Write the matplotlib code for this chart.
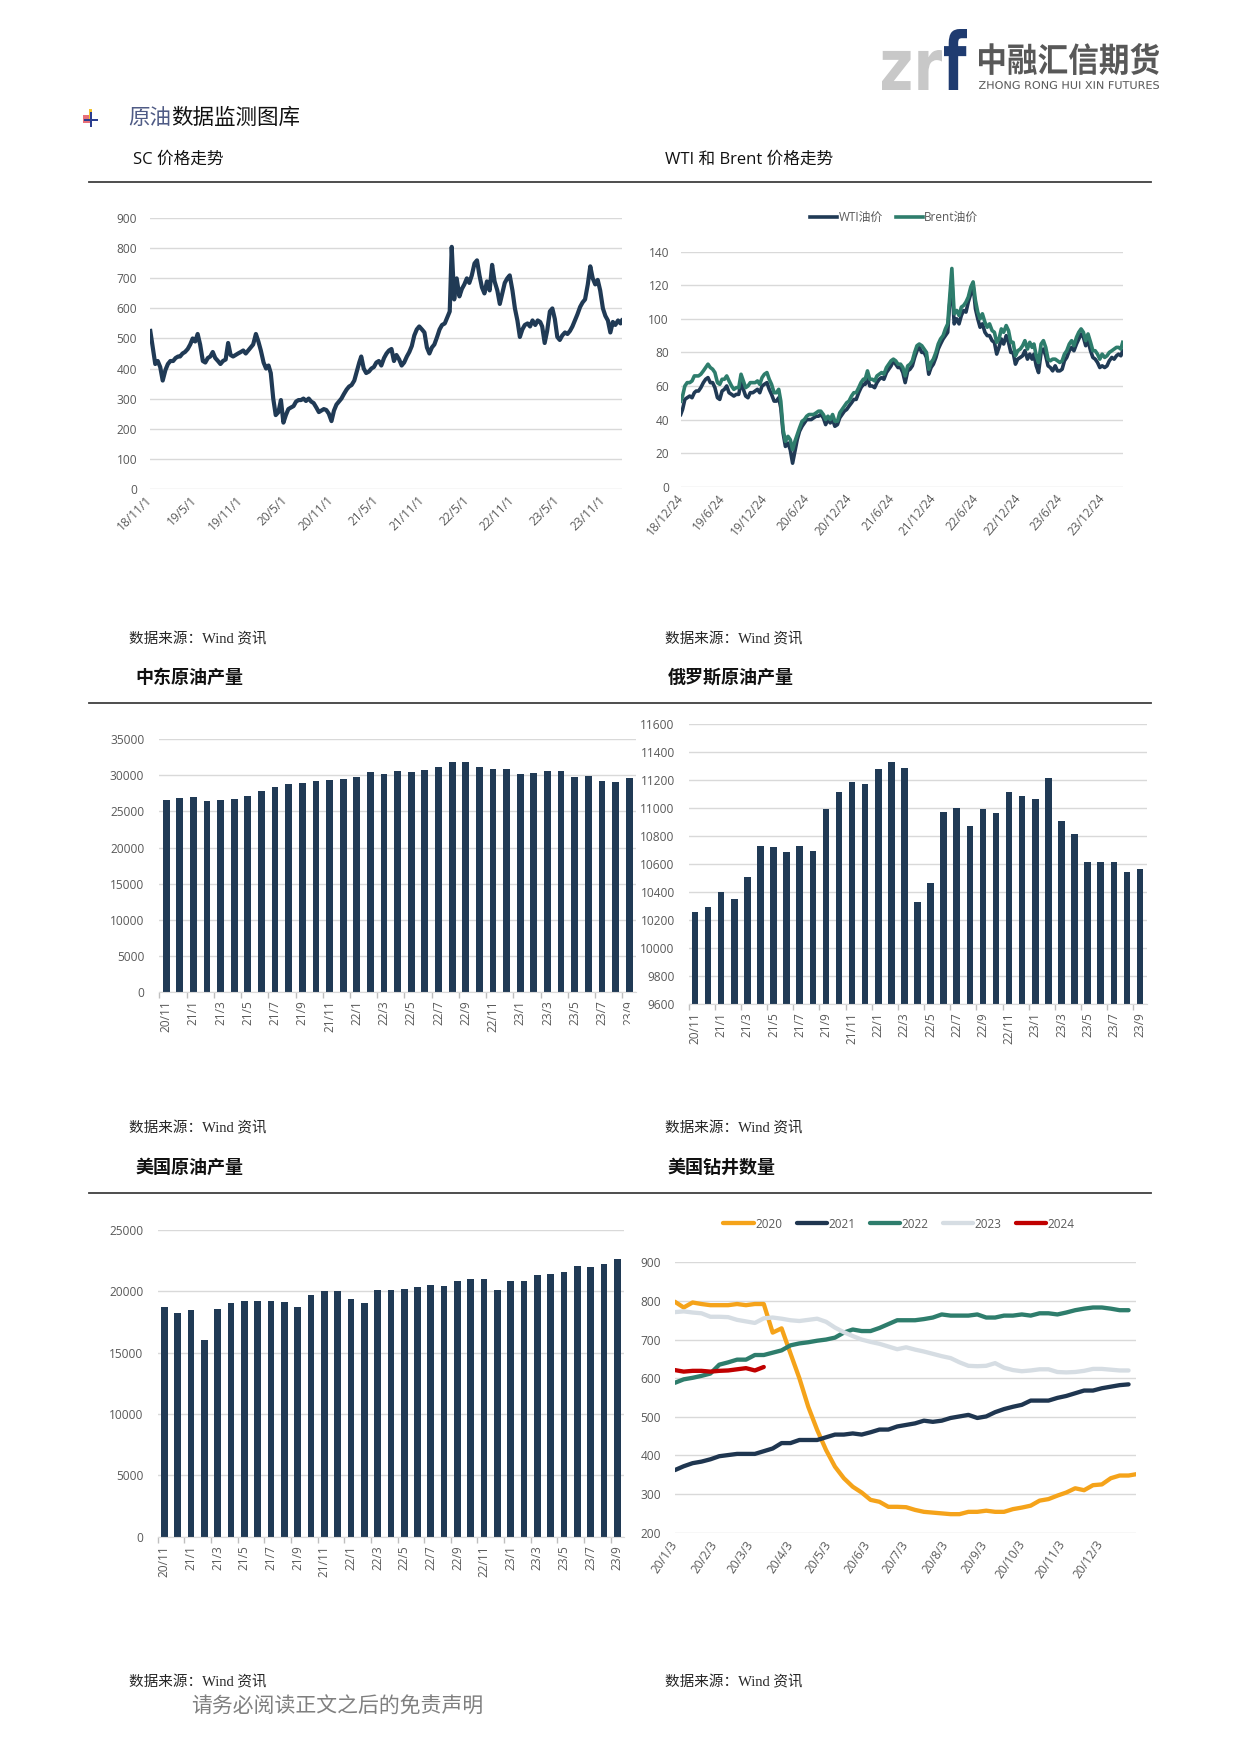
import matplotlib
matplotlib.use('Agg')
import matplotlib.pyplot as plt
from matplotlib.lines import Line2D
from matplotlib.patches import Rectangle, PathPatch
from matplotlib.textpath import TextPath
from matplotlib.font_manager import FontProperties
from matplotlib.transforms import Affine2D, IdentityTransform, Bbox, TransformedBbox
import numpy as np
import pandas as pd

W, H, DPI = 1241, 1755, 100
plt.rcParams['font.family'] = ['Open Sans', 'Noto Sans CJK SC', 'DejaVu Sans']

NAVY = '#203a55'
TEAL = '#2e7d6c'
GRID = '#d9d9d9'
TICKC = '#595959'
TICKSIZE = 8.6

# ---------------- data ----------------
# SC crude (dekadal readings: day 1, 11, 21 of each month)
sc_values = [
    525, 470, 415,   # 2018-11
    425, 405, 360,   # 2018-12
    395, 415, 425,   # 2019-01
    425, 435, 440,   # 2019-02
    440, 450, 455,   # 2019-03
    465, 480, 500,   # 2019-04
    490, 515, 480,   # 2019-05
    425, 420, 435,   # 2019-06
    440, 455, 435,   # 2019-07
    425, 415, 425,   # 2019-08
    430, 485, 445,   # 2019-09
    440, 445, 450,   # 2019-10
    455, 460, 450,   # 2019-11
    460, 470, 480,   # 2019-12
    515, 490, 460,   # 2020-01
    420, 400, 410,   # 2020-02
    385, 300, 245,   # 2020-03
    255, 295, 220,   # 2020-04
    245, 265, 270,   # 2020-05
    275, 290, 295,   # 2020-06
    295, 300, 292,   # 2020-07
    300, 290, 285,   # 2020-08
    270, 255, 260,   # 2020-09
    265, 262, 250,   # 2020-10
    225, 260, 280,   # 2020-11
    290, 300, 315,   # 2020-12
    330, 340, 345,   # 2021-01
    360, 390, 420,   # 2021-02
    440, 400, 385,   # 2021-03
    390, 400, 405,   # 2021-04
    420, 425, 410,   # 2021-05
    435, 450, 460,   # 2021-06
    465, 425, 445,   # 2021-07
    430, 410, 420,   # 2021-08
    440, 455, 475,   # 2021-09
    510, 530, 540,   # 2021-10
    530, 520, 470,   # 2021-11
    450, 470, 480,   # 2021-12
    505, 530, 545,   # 2022-01
    550, 570, 590,   # 2022-02
    805, 630, 700,   # 2022-03
    640, 665, 680,   # 2022-04
    700, 685, 710,   # 2022-05
    750, 760, 710,   # 2022-06
    670, 650, 690,   # 2022-07
    660, 745, 690,   # 2022-08
    660, 615, 650,   # 2022-09
    685, 700, 710,   # 2022-10
    660, 600, 560,   # 2022-11
    505, 530, 545,   # 2022-12
    550, 540, 560,   # 2023-01
    545, 560, 555,   # 2023-02
    540, 485, 525,   # 2023-03
    590, 600, 565,   # 2023-04
    505, 495, 510,   # 2023-05
    520, 515, 525,   # 2023-06
    540, 560, 580,   # 2023-07
    605, 620, 630,   # 2023-08
    680, 740, 700,   # 2023-09
    680, 695, 660,   # 2023-10
    600, 575, 560,   # 2023-11
    520, 555, 545,   # 2023-12
    560, 550, 560,   # 2024-01 (1, 11, 17)
]
sc_tick_dates = ['2018-11-01', '2019-05-01', '2019-11-01', '2020-05-01', '2020-11-01', '2021-05-01',
                 '2021-11-01', '2022-05-01', '2022-11-01', '2023-05-01', '2023-11-01']
sc_tick_labels = ['18/11/1', '19/5/1', '19/11/1', '20/5/1', '20/11/1', '21/5/1',
                  '21/11/1', '22/5/1', '22/11/1', '23/5/1', '23/11/1']

# WTI & Brent (first 2018-12-24, then dekadal 2019-01 .. 2024-03, last 2024-03-19)
wti_values = [
    43,
    46, 52, 53,  54, 53, 56,  57, 57, 59,  62, 64, 65,  62, 62, 59,  53, 52, 57,   # 2019 H1
    58, 60, 56,  55, 54, 55,  55, 62, 58,  54, 53, 56,  56, 57, 58,  56, 60, 61,   # 2019 H2
    62, 58, 55,  51, 51, 53,  47, 32, 24,  26, 22, 14,  21, 28, 33,  36, 38, 40,   # 2020 H1
    40, 40, 41,  42, 42, 43,  41, 37, 40,  38, 40, 36,  37, 41, 43,  45, 46, 48,   # 2020 H2
    50, 52, 52,  56, 59, 61,  61, 65, 60,  60, 59, 62,  64, 65, 64,  68, 70, 72,   # 2021 H1
    75, 73, 71,  71, 68, 62,  69, 70, 72,  77, 81, 83,  80, 80, 77,  67, 71, 73,   # 2021 H2
    77, 82, 85,  88, 90, 92, 108, 123, 97, 100, 97, 102, 105, 104, 110, 115, 120, 106,  # 2022 H1
    100, 95, 97,  92, 90, 90,  87, 86, 79,  83, 88, 85,  90, 86, 80,  80, 73, 76,  # 2022 H2
    77, 78, 81,  76, 79, 76,  79, 72, 68,  80, 82, 78,  72, 71, 69,  72, 69, 69,   # 2023 H1
    70, 75, 77,  81, 83, 81,  85, 88, 91,  89, 84, 87,  81, 77, 76,  74, 71, 72,   # 2023 H2
    71, 72, 75,  77, 76, 78,  79, 78, 81,                                        # 2024
]
brent_values = [
    51,
    54, 60, 62,  62, 63, 66,  66, 66, 67,  69, 71, 73,  71, 70, 68,  62, 61, 64,
    64, 66, 63,  60, 58, 59,  59, 67, 63,  59, 60, 62,  62, 62, 63,  61, 65, 67,
    68, 64, 61,  56, 56, 58,  51, 34, 27,  30, 28, 22,  27, 31, 35,  39, 40, 42,
    43, 43, 43,  44, 45, 45,  43, 40, 42,  40, 43, 39,  39, 44, 46,  48, 50, 51,
    54, 56, 56,  59, 62, 64,  64, 69, 64,  64, 63, 66,  67, 68, 67,  71, 73, 75,
    76, 75, 73,  73, 71, 66,  72, 73, 75,  80, 84, 85,  84, 82, 80,  70, 74, 76,
    80, 85, 88,  90, 94, 97, 112, 130, 103, 105, 102, 107, 108, 110, 113, 119, 122, 111,
    104, 100, 103, 98, 95, 97,  93, 92, 86,  88, 94, 92,  96, 93, 86,  86, 78, 81,
    82, 84, 87,  82, 86, 83,  85, 78, 74,  85, 87, 83,  76, 75, 76,  76, 75, 74,
    75, 79, 81,  85, 87, 84,  89, 92, 94,  92, 87, 91,  86, 81, 81,  79, 76, 79,
    77, 78, 80,  81, 82, 83,  83, 82, 86,
]
oil_tick_dates = ['2018-12-24', '2019-06-24', '2019-12-24', '2020-06-24', '2020-12-24', '2021-06-24',
                  '2021-12-24', '2022-06-24', '2022-12-24', '2023-06-24', '2023-12-24']
oil_tick_labels = ['18/12/24', '19/6/24', '19/12/24', '20/6/24', '20/12/24', '21/6/24',
                   '21/12/24', '22/6/24', '22/12/24', '23/6/24', '23/12/24']

# monthly production 2020/11 .. 2023/9
prod_labels = ['20/11', '21/1', '21/3', '21/5', '21/7', '21/9', '21/11', '22/1', '22/3',
               '22/5', '22/7', '22/9', '22/11', '23/1', '23/3', '23/5', '23/7', '23/9']
me_values = [26600, 26900, 27050, 26450, 26600, 26750, 27200, 27850, 28450, 28750, 28900, 29200,
             29350, 29500, 29800, 30450, 30150, 30600, 30450, 30750, 31150, 31800, 31800, 31150,
             30900, 30900, 30150, 30300, 30600, 30600, 29800, 29950, 29200, 29050, 29700]
ru_values = [10255, 10290, 10402, 10350, 10507, 10726, 10719, 10683, 10726, 10693, 10990, 11112,
             11183, 11174, 11279, 11331, 11288, 10326, 10464, 10971, 10998, 10874, 10990, 10962,
             11112, 11086, 11067, 11217, 10909, 10812, 10612, 10612, 10612, 10540, 10567]
us_values = [18690, 18230, 18480, 16060, 18560, 19020, 19240, 19240, 19240, 19130, 18690, 19670,
             20020, 20000, 19350, 19020, 20110, 20110, 20210, 20320, 20540, 20430, 20870, 20980,
             20980, 20110, 20870, 20870, 21300, 21440, 21550, 22090, 21980, 22230, 22630]

# US rig count, weekly from Jan 3
rig_2020 = [798, 783, 796, 792, 789, 789, 789, 792, 789, 792, 792, 718, 729, 664, 600, 526, 466, 414,
            371, 341, 319, 304, 285, 280, 267, 267, 266, 259, 254, 252, 250, 248, 248, 254, 254, 257,
            254, 254, 261, 265, 270, 283, 287, 296, 304, 315, 310, 323, 325, 341, 348, 348, 352]
rig_2021 = [362, 372, 380, 384, 390, 398, 401, 404, 404, 404, 411, 418, 432, 432, 440, 440, 440, 447,
            454, 454, 457, 454, 460, 467, 467, 475, 479, 483, 490, 487, 490, 497, 501, 505, 497, 501,
            512, 520, 526, 531, 542, 542, 542, 549, 554, 561, 568, 568, 574, 578, 582, 584]
rig_2022 = [588, 597, 601, 606, 612, 635, 641, 648, 648, 660, 660, 666, 672, 685, 690, 693, 697, 700,
            705, 718, 726, 722, 722, 730, 740, 750, 750, 750, 753, 757, 765, 762, 762, 762, 765, 757,
            757, 762, 762, 765, 762, 768, 768, 765, 770, 776, 780, 783, 783, 780, 776, 776]
rig_2023 = [771, 773, 770, 768, 759, 759, 758, 751, 747, 743, 755, 757, 754, 750, 748, 751, 754, 746,
            731, 719, 709, 700, 694, 689, 682, 675, 680, 674, 669, 663, 657, 652, 641, 632, 631, 632,
            639, 627, 621, 618, 620, 623, 623, 616, 615, 616, 619, 624, 624, 622, 620, 620]
rig_2024 = [621, 617, 619, 619, 617, 619, 620, 623, 626, 620, 629]
rig_series = [('2020', rig_2020, '#f5a31a'), ('2021', rig_2021, '#1f3650'),
              ('2022', rig_2022, '#2e7d6c'), ('2023', rig_2023, '#d6dde3'),
              ('2024', rig_2024, '#c00000')]
rig_tick_dates = ['2020-01-03', '2020-02-03', '2020-03-03', '2020-04-03', '2020-05-03', '2020-06-03',
                  '2020-07-03', '2020-08-03', '2020-09-03', '2020-10-03', '2020-11-03', '2020-12-03']
rig_tick_labels = ['20/1/3', '20/2/3', '20/3/3', '20/4/3', '20/5/3', '20/6/3',
                   '20/7/3', '20/8/3', '20/9/3', '20/10/3', '20/11/3', '20/12/3']


# ---------------- helpers ----------------
def dekads(start, end):
    out = []
    for m in pd.period_range(start, end, freq='M'):
        for d in (1, 11, 21):
            out.append(np.datetime64(f'{m.year:04d}-{m.month:02d}-{d:02d}'))
    return out


sc_dates = dekads('2018-11', '2023-12') + [np.datetime64('2024-01-01'), np.datetime64('2024-01-11'),
                                           np.datetime64('2024-01-17')]
oil_dates = [np.datetime64('2018-12-24')] + dekads('2019-01', '2024-02') + \
    [np.datetime64('2024-03-01'), np.datetime64('2024-03-11'), np.datetime64('2024-03-19')]

fig = plt.figure(figsize=(W / DPI, H / DPI), dpi=DPI, facecolor='white')


def add_ax(l, t, r, b):
    return fig.add_axes([l / W, 1 - b / H, (r - l) / W, (b - t) / H])


def style_common(ax, ypad):
    for s in ax.spines.values():
        s.set_visible(False)
    ax.grid(axis='y', color=GRID, lw=1.0)
    ax.set_axisbelow(True)
    ax.tick_params(axis='both', which='major', length=0, labelsize=TICKSIZE, colors=TICKC)
    ax.tick_params(axis='y', pad=ypad)


def ftext(x, y, s, **kw):
    fig.text(x / W, 1 - y / H, s, **kw)


def hline(x0, x1, y, color='#3f3f3f', lw=1.3):
    fig.add_artist(Line2D([x0 / W, x1 / W], [1 - y / H, 1 - y / H], color=color, lw=lw))


def fit_text(s, x0, y0, x1, y1, color, family, weight='normal'):
    tp = TextPath((0, 0), s, size=100, prop=FontProperties(family=family, weight=weight))
    ext = tp.get_extents()
    tr = Affine2D().translate(-ext.x0, -ext.y0).scale((x1 - x0) / ext.width, (y1 - y0) / ext.height) \
        .translate(x0, H - y1)
    fig.add_artist(PathPatch(tr.transform_path(tp), facecolor=color, edgecolor='none',
                             transform=IdentityTransform()))


def line_xticks(ax, dates, labels, rot, pad=6.5):
    ax.set_xticks([np.datetime64(d) for d in dates])
    ax.set_xticklabels(labels, rotation=rot, ha='right', va='center', rotation_mode='anchor')
    ax.tick_params(axis='x', pad=pad)


def bar_chart(ax, values, labels, ylo, yhi, step, ypad):
    x = np.arange(len(values))
    ax.bar(x, values, width=0.5, color=NAVY, zorder=2)
    ax.set_xlim(-0.5, len(values) - 0.5)
    ax.set_ylim(ylo, yhi)
    ax.set_yticks(np.arange(ylo, yhi + 1, step))
    style_common(ax, ypad)
    ax.spines['bottom'].set_visible(True)
    ax.spines['bottom'].set_color(GRID)
    ax.set_xticks(x[::2])
    ax.set_xticklabels(labels, rotation=90)
    ax.set_xticks(np.arange(-0.5, len(values), 2), minor=True)
    ax.tick_params(axis='x', which='major', pad=6)
    ax.tick_params(axis='x', which='minor', length=4, color='#bfbfbf', width=1)


SRC_FAMILY = ['Liberation Serif', 'Noto Sans CJK SC']

# ---------------- header ----------------
fit_text('zr', 882, 50, 942, 90, '#c8c8c8', 'DejaVu Sans', 'bold')
fit_text('f', 944, 29, 967, 90, '#1f3b70', 'DejaVu Sans', 'bold')
fit_text('中融汇信期货', 979, 43, 1159, 75, '#585858', 'Noto Sans CJK SC', 'bold')
fit_text('ZHONG RONG HUI XIN FUTURES', 979, 81, 1159, 89, '#585858', 'DejaVu Sans')

# small icon
fig.add_artist(Rectangle((83, H - 123), 8, 8, facecolor='#e8707a', edgecolor='none', transform=IdentityTransform()))
fig.add_artist(Rectangle((89, H - 119), 3, 10, facecolor='#f2c230', edgecolor='none', transform=IdentityTransform()))
fig.add_artist(Rectangle((90, H - 127), 2, 15, facecolor='#2a3d8f', edgecolor='none', transform=IdentityTransform()))
fig.add_artist(Rectangle((84, H - 121), 14, 2, facecolor='#2a3d8f', edgecolor='none', transform=IdentityTransform()))

ftext(128, 118, '原油', fontsize=15.5, color='#4f5b85', va='center', ha='left')
ftext(128 + 2 * 15.5 * DPI / 72, 118, '数据监测图库', fontsize=15.5, color='#111111', va='center', ha='left')

# section titles
ftext(133, 160, 'SC 价格走势', fontsize=12, color='#111111', va='center')
ftext(665, 160, 'WTI 和 Brent 价格走势', fontsize=12, color='#111111', va='center')
hline(88.6, 1151, 182)

ftext(135, 678, '中东原油产量', fontsize=13, weight='bold', color='#111111', va='center')
ftext(668, 678, '俄罗斯原油产量', fontsize=13, weight='bold', color='#111111', va='center')
hline(88.6, 1151, 703.3)

ftext(135, 1168, '美国原油产量', fontsize=13, weight='bold', color='#111111', va='center')
ftext(668, 1168, '美国钻井数量', fontsize=13, weight='bold', color='#111111', va='center')
hline(88.6, 1151, 1192.7)

for yy in (639, 1128, 1682):
    ftext(129, yy, '数据来源：Wind 资讯', fontsize=10.5, color='#262626', va='center', family=SRC_FAMILY)
    ftext(665, yy, '数据来源：Wind 资讯', fontsize=10.5, color='#262626', va='center', family=SRC_FAMILY)

ftext(191, 1707, '请务必阅读正文之后的免责声明', fontsize=15, color='#7f7f7f', va='center')

# ---------------- chart 1: SC ----------------
ax1 = add_ax(150.3, 218.3, 622, 488.7)
n = min(len(sc_dates), len(sc_values))
ax1.plot(sc_dates[:n], sc_values[:n], color=NAVY, lw=3.0, solid_joinstyle='round')
ax1.set_ylim(0, 900)
ax1.set_yticks(range(0, 901, 100))
ax1.set_xlim(np.datetime64('2018-11-01'), np.datetime64('2024-01-17'))
style_common(ax1, 9.5)
line_xticks(ax1, sc_tick_dates, sc_tick_labels, 45)

# ---------------- chart 2: WTI & Brent ----------------
ax2 = add_ax(680.7, 251.7, 1122.7, 486.7)
n = min(len(oil_dates), len(wti_values))
ax2.plot(oil_dates[:n], wti_values[:n], color=NAVY, lw=2.6, label='WTI油价', solid_joinstyle='round')
n = min(len(oil_dates), len(brent_values))
ax2.plot(oil_dates[:n], brent_values[:n], color=TEAL, lw=2.6, label='Brent油价', solid_joinstyle='round')
ax2.set_ylim(0, 140)
ax2.set_yticks(range(0, 141, 20))
ax2.set_xlim(np.datetime64('2018-12-24'), np.datetime64('2024-03-19'))
style_common(ax2, 8.4)
line_xticks(ax2, oil_tick_dates, oil_tick_labels, 50)
ax2.legend(loc='center', bbox_to_anchor=(894 / W, 1 - 217.3 / H), bbox_transform=fig.transFigure,
           ncol=2, frameon=False, fontsize=8.5, handlelength=2.3, handletextpad=0.1,
           columnspacing=1.1, labelcolor=TICKC)

# ---------------- chart 3: Middle East ----------------
ax3 = add_ax(159.3, 739.3, 636, 992)
bar_chart(ax3, me_values, prod_labels, 0, 35000, 5000, 10.8)
lab = ax3.get_xticklabels()[-1]
lab.set_clip_box(TransformedBbox(Bbox([[0, 0], [630 / W, 1]]), fig.transFigure))
lab.set_clip_on(True)

# ---------------- chart 4: Russia ----------------
ax4 = add_ax(688.5, 724, 1146.5, 1004)
bar_chart(ax4, ru_values, prod_labels, 9600, 11600, 200, 9.9)

# ---------------- chart 5: US production ----------------
ax5 = add_ax(157.7, 1230, 624, 1536.7)
bar_chart(ax5, us_values, prod_labels, 0, 25000, 5000, 10.4)

# ---------------- chart 6: rig count ----------------
ax6 = add_ax(674.8, 1262.3, 1136.2, 1532.7)
start = np.datetime64('2020-01-03')
for name, vals, col in rig_series:
    xs = [start + np.timedelta64(7 * i, 'D') for i in range(len(vals))]
    ax6.plot(xs, vals, color=col, lw=3.1, label=name, solid_joinstyle='round', solid_capstyle='round')
ax6.set_ylim(200, 900)
ax6.set_yticks(range(200, 901, 100))
ax6.set_xlim(np.datetime64('2020-01-03'), np.datetime64('2020-12-31'))
style_common(ax6, 9.9)
line_xticks(ax6, rig_tick_dates, rig_tick_labels, 56)
ax6.legend(loc='center', bbox_to_anchor=(899 / W, 1 - 1224 / H), bbox_transform=fig.transFigure,
           ncol=5, frameon=False, fontsize=8.5, handlelength=2.6, handletextpad=0.1,
           columnspacing=1.2, labelcolor=TICKC)

fig.savefig('out.png', dpi=DPI, facecolor='white')
